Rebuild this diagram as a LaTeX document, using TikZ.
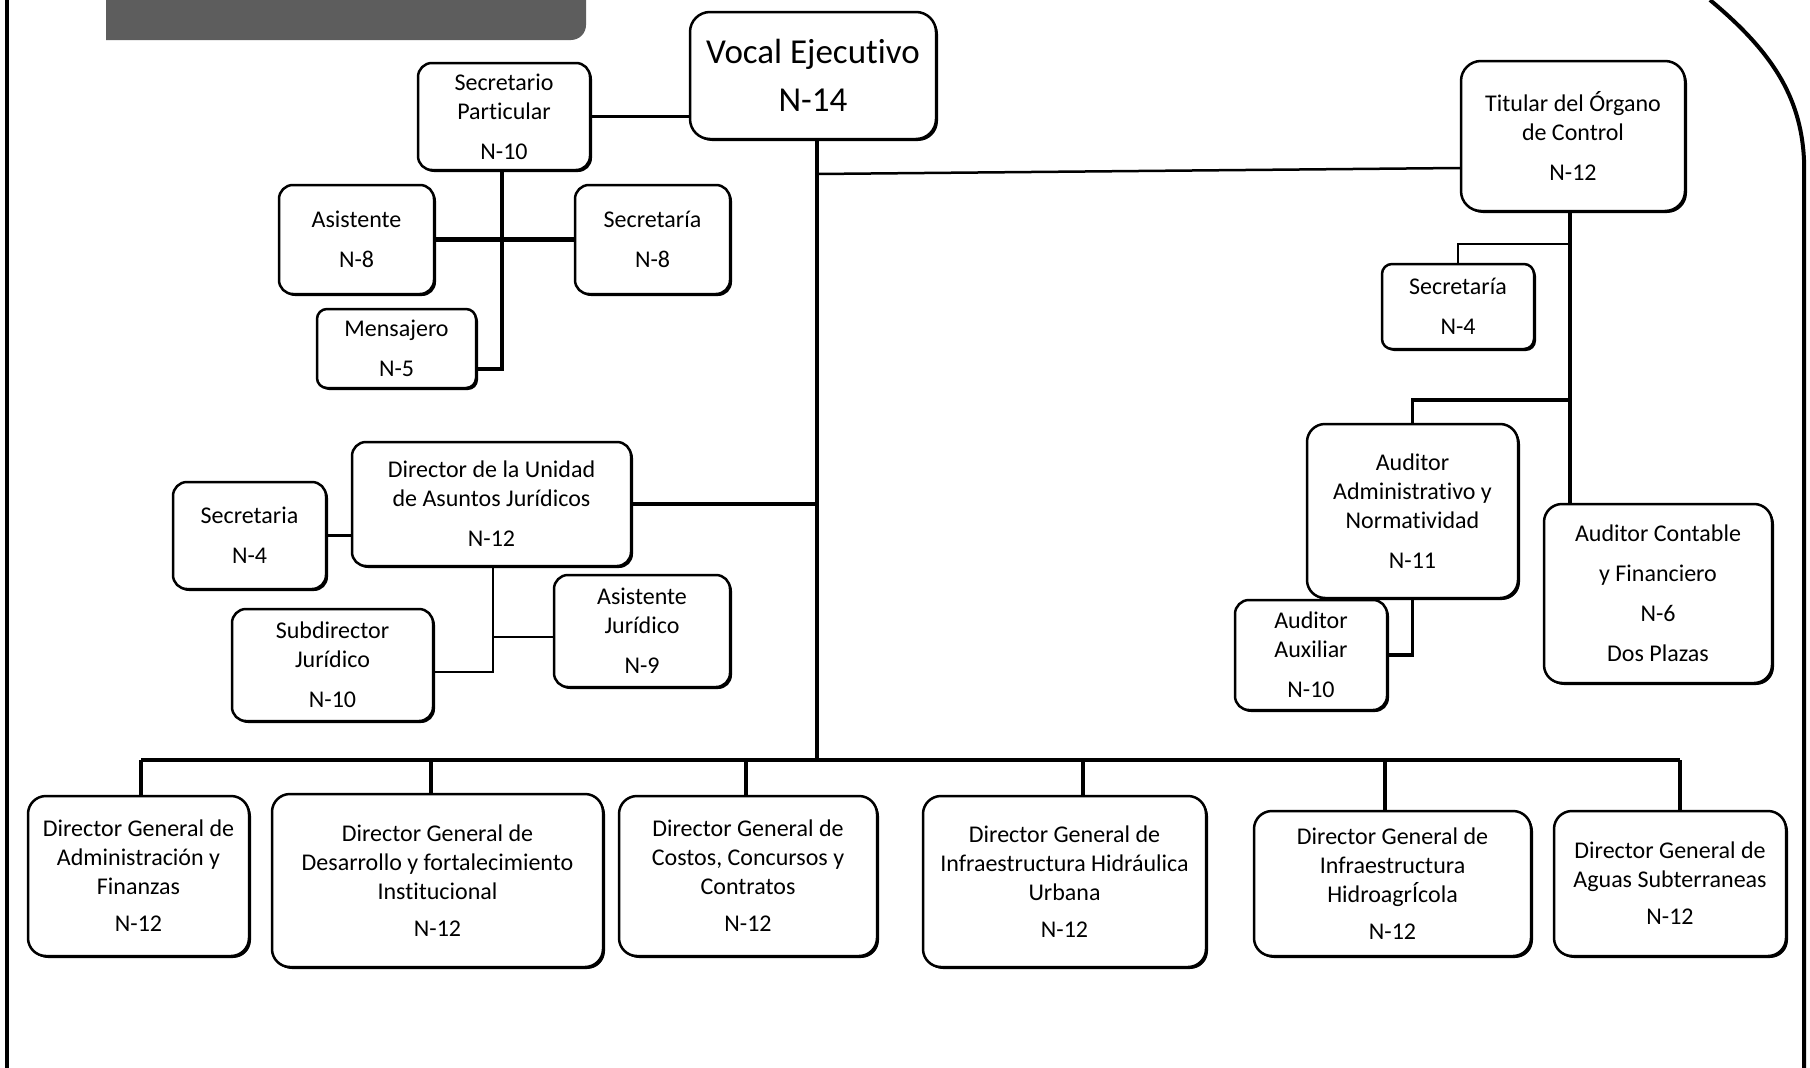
\documentclass[tikz,border=0pt]{standalone}
\usepackage{fontspec}
\setmainfont{Carlito}[Ligatures={NoCommon}]
\usetikzlibrary{shadows}
\definecolor{barfill}{HTML}{5D5D5D}
\begin{document}
\begin{tikzpicture}[x=1pt,y=-1pt,
  box/.style={draw, line width=2.5pt, rounded corners=14pt, fill=white, align=center, inner sep=0pt,
    font=\fontsize{24}{29}\selectfont,
    drop shadow={shadow xshift=2pt, shadow yshift=-2pt, fill=black, opacity=1}},
  thk/.style={line width=4.5pt},
  med/.style={line width=3.2pt},
  thn/.style={line width=2.5pt}]
\useasboundingbox (0,0) rectangle (1810,1068);
\fill[white] (0,0) rectangle (1810,1068);

% frame and header bar
\fill[barfill] (106,0) -- (586,0) -- (586,25) arc[start angle=0, end angle=90, radius=15] -- (106,40) -- cycle;
\draw[line width=4pt] (7,0) -- (7,1068);
\draw[line width=4pt] (1710,0) .. controls (1770,50) and (1801,95) .. (1804,160) -- (1804,1068);

% boxes
\node[box, minimum width=246pt, minimum height=127pt, rounded corners=20pt, font=\fontsize{35}{48}\selectfont] (vocal) at (813,75.5) {Vocal Ejecutivo\\N-14};
\node[box, minimum width=172pt, minimum height=107pt] (secpart) at (504,116.5) {Secretario\\Particular\\[11pt]N-10};
\node[box, minimum width=155pt, minimum height=109pt] (asist) at (356.5,239.5) {Asistente\\[11pt]N-8};
\node[box, minimum width=155pt, minimum height=109pt] (secL) at (652.5,239.5) {Secretaría\\[11pt]N-8};
\node[box, minimum width=159pt, minimum height=79pt, rounded corners=10pt] (mens) at (396.5,348.5) {Mensajero\\[11pt]N-5};
\node[box, minimum width=279pt, minimum height=124pt] (dirUJ) at (491.5,504) {Director de la Unidad\\de Asuntos Jurídicos\\[11pt]N-12};
\node[box, minimum width=153pt, minimum height=107pt] (secr) at (249.5,535.5) {Secretaria\\[11pt]N-4};
\node[box, minimum width=201pt, minimum height=112pt] (subdir) at (332.5,665) {Subdirector\\Jurídico\\[11pt]N-10};
\node[box, minimum width=176pt, minimum height=112pt] (asisJ) at (642,631) {Asistente\\Jurídico\\[11pt]N-9};
\node[box, minimum width=224pt, minimum height=150pt, rounded corners=20pt] (titular) at (1573,136) {Titular del Órgano\\de Control\\[11pt]N-12};
\node[box, minimum width=152pt, minimum height=85pt, rounded corners=10pt] (secR) at (1458,306.5) {Secretaría\\[11pt]N-4};
\node[box, minimum width=211pt, minimum height=174pt, rounded corners=18pt] (audAdm) at (1412.5,511) {Auditor\\Administrativo y\\Normatividad\\[11pt]N-11};
\node[box, minimum width=152pt, minimum height=110pt] (audAux) at (1311,655) {Auditor\\Auxiliar\\[11pt]N-10};
\node[box, minimum width=228pt, minimum height=179pt, rounded corners=18pt, font=\fontsize{24}{40}\selectfont] (audCont) at (1658,593.5) {Auditor Contable\\y Financiero\\N-6\\Dos Plazas};

\node[box, minimum width=221pt, minimum height=160pt, rounded corners=18pt] (dg1) at (138.5,876) {Director General de\\Administración y\\Finanzas\\[8pt]N-12};
\node[box, minimum width=331pt, minimum height=173pt, rounded corners=18pt] (dg2) at (437.5,880.5) {Director General de\\Desarrollo y fortalecimiento\\Institucional\\[8pt]N-12};
\node[box, minimum width=258pt, minimum height=160pt, rounded corners=18pt] (dg3) at (748,876) {Director General de\\Costos, Concursos y\\Contratos\\[8pt]N-12};
\node[box, minimum width=283pt, minimum height=171pt, rounded corners=18pt] (dg4) at (1064.5,881.5) {Director General de\\Infraestructura Hidráulica\\Urbana\\[8pt]N-12};
\node[box, minimum width=277pt, minimum height=145pt, rounded corners=18pt] (dg5) at (1392.5,883.5) {Director General de\\Infraestructura\\HidroagrÍcola\\[8pt]N-12};
\node[box, minimum width=232pt, minimum height=145pt, rounded corners=18pt] (dg6) at (1670,883.5) {Director General de\\Aguas Subterraneas\\[8pt]N-12};

% junction points
\coordinate (tb) at (817,760);
\coordinate (j1) at (817,174);
\coordinate (jm) at (502,369);
\coordinate (jd) at (493,672);
\coordinate (ja) at (493,637);
\coordinate (b1) at (141,760);
\coordinate (b2) at (431,760);
\coordinate (b3) at (746,760);
\coordinate (b4) at (1083,760);
\coordinate (b5) at (1385,760);
\coordinate (b6) at (1680,760);
\coordinate (jt) at (1570,0);
\coordinate (js) at (1570,244);
\coordinate (jaa) at (1570,400);

% connectors
\draw[thk] (vocal.south -| tb) -- (tb);
\draw[thn] (j1) -- (titular.west |- 0,168);
\draw[med] (secpart.east) -- (secpart.east -| vocal.west);
\draw[med] (secpart.south -| jm) -- (jm) -- (jm -| mens.east);
\draw[thk] (asist.east) -- (secL.west);
\draw[med] (dirUJ.east) -- (dirUJ.east -| tb);
\draw[med] (secr.east) -- (secr.east -| dirUJ.west);
\draw[thn] (dirUJ.south -| jd) -- (jd) -- (jd -| subdir.east);
\draw[thn] (ja) -- (ja -| asisJ.west);
\draw[thk] (b1) -- (b6);
\foreach \i in {1,...,6} { \draw[thk] (b\i) -- (b\i |- dg\i.north); }
\draw[thk] (titular.south -| jt) -- (audCont.north -| jt);
\draw[thn] (js) -| (secR.north);
\draw[med] (jaa) -| (audAdm.north);
\draw[med] (audAdm.south) |- (audAux.east);
\end{tikzpicture}
\end{document}
